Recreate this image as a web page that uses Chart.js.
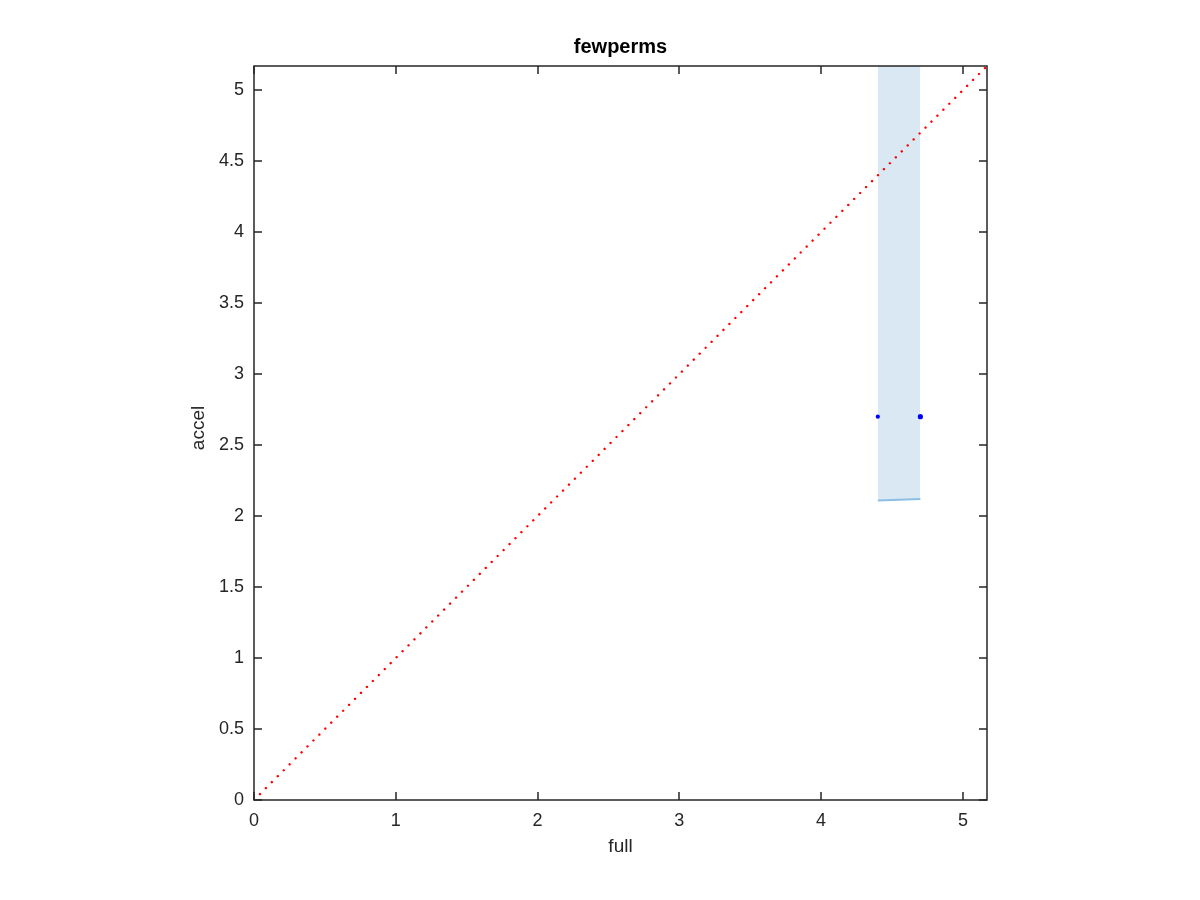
<!DOCTYPE html>
<html>
<head>
<meta charset="utf-8">
<script src="https://cdn.jsdelivr.net/npm/chart.js@4.4.1/dist/chart.umd.min.js"></script>
<style>
html,body{margin:0;padding:0;background:#fff;}
#wrap{width:1200px;height:900px;}
</style>
</head>
<body>
<div id="wrap"><canvas id="c" width="1200" height="900"></canvas></div>
<script>
// ---- data ----
const chartTitle = "fewperms";
const xTitle = "full";
const yTitle = "accel";
const axisMin = 0;
const axisMax = 5.17;
const xTicks = [0, 1, 2, 3, 4, 5];
const yTicks = [0, 0.5, 1, 1.5, 2, 2.5, 3, 3.5, 4, 4.5, 5];
const bandX = [4.40, 4.70];
const bandLow = [2.11, 2.12];
const bandHigh = [6.0, 6.0];   // upper edge lies above the visible range
const pointX = [4.40, 4.70];
const pointY = [2.70, 2.70];
const diagX = [0, 5.17];

const textColor = '#262626';
const fontFamily = '"Liberation Sans", Arial, Helvetica, sans-serif';

const bandLowData = bandX.map((x, i) => ({x: x, y: bandLow[i]}));
const bandHighData = bandX.map((x, i) => ({x: x, y: bandHigh[i]}));
const pointData = pointX.map((x, i) => ({x: x, y: pointY[i]}));
const diagData = diagX.map(x => ({x: x, y: x}));

const framePlugin = {
  id: 'frame',
  afterDraw(chart) {
    const {ctx, chartArea: a, scales} = chart;
    const xs = scales.x, ys = scales.y;
    ctx.save();
    ctx.setLineDash([]);
    ctx.strokeStyle = textColor;
    ctx.lineWidth = 1.5;
    ctx.strokeRect(a.left, a.top, a.right - a.left, a.bottom - a.top);
    const L = 8;
    ctx.beginPath();
    xTicks.forEach(v => {
      const px = Math.round(xs.getPixelForValue(v));
      ctx.moveTo(px, a.bottom); ctx.lineTo(px, a.bottom - L);
      ctx.moveTo(px, a.top); ctx.lineTo(px, a.top + L);
    });
    yTicks.forEach(v => {
      const py = Math.round(ys.getPixelForValue(v));
      ctx.moveTo(a.left, py); ctx.lineTo(a.left + L, py);
      ctx.moveTo(a.right, py); ctx.lineTo(a.right - L, py);
    });
    ctx.stroke();
    // titles
    ctx.fillStyle = '#000';
    ctx.font = 'bold 20px ' + fontFamily;
    ctx.textAlign = 'center';
    ctx.textBaseline = 'alphabetic';
    ctx.fillText(chartTitle, (a.left + a.right) / 2, 53);
    ctx.fillStyle = textColor;
    ctx.font = '19px ' + fontFamily;
    ctx.fillText(xTitle, (a.left + a.right) / 2, 852);
    ctx.translate(204, (a.top + a.bottom) / 2 - 5);
    ctx.rotate(-Math.PI / 2);
    ctx.fillText(yTitle, 0, 0);
    ctx.restore();
  }
};

new Chart(document.getElementById('c'), {
  type: 'scatter',
  data: {
    datasets: [
      {
        label: 'bandLow',
        type: 'line',
        data: bandLowData,
        borderColor: 'rgb(140,190,230)',
        borderWidth: 2,
        backgroundColor: 'rgb(217,232,243)',
        fill: false,
        pointRadius: 0,
        order: 3
      },
      {
        label: 'bandHigh',
        type: 'line',
        data: bandHighData,
        borderColor: 'rgba(0,0,0,0)',
        borderWidth: 0,
        backgroundColor: 'rgb(217,232,243)',
        fill: '-1',
        pointRadius: 0,
        order: 4
      },
      {
        label: 'diag',
        type: 'line',
        data: diagData,
        borderColor: '#ff0000',
        backgroundColor: '#ff0000',
        borderWidth: 2.4,
        borderDash: [0.01, 8.4],
        borderCapStyle: 'round',
        fill: false,
        pointRadius: 0,
        order: 2
      },
      {
        label: 'points',
        data: pointData,
        backgroundColor: 'rgb(0,0,255)',
        borderColor: 'rgb(0,0,255)',
        pointRadius: [2.1, 2.6],
        borderWidth: 0,
        order: 1
      }
    ]
  },
  options: {
    responsive: false,
    animation: false,
    layout: {padding: {left: 0, right: 213, top: 66, bottom: 0}},
    plugins: {
      legend: {display: false},
      tooltip: {enabled: false},
      title: {display: false},
      filler: {drawTime: 'beforeDatasetDraw'}
    },
    scales: {
      x: {
        type: 'linear',
        min: axisMin, max: axisMax,
        afterBuildTicks: s => { s.ticks = xTicks.map(v => ({value: v})); },
        afterFit: s => { s.height = 100; },
        grid: {display: false, drawTicks: false},
        border: {display: false},
        ticks: {color: textColor, font: {family: fontFamily, size: 18}, padding: 10, maxRotation: 0,
                callback: v => String(v)}
      },
      y: {
        type: 'linear',
        min: axisMin, max: axisMax,
        afterBuildTicks: s => { s.ticks = yTicks.map(v => ({value: v})); },
        afterFit: s => { s.width = 254; },
        grid: {display: false, drawTicks: false},
        border: {display: false},
        ticks: {color: textColor, font: {family: fontFamily, size: 18}, padding: 10,
                callback: v => String(v)}
      }
    }
  },
  plugins: [framePlugin]
});
</script>
</body>
</html>
